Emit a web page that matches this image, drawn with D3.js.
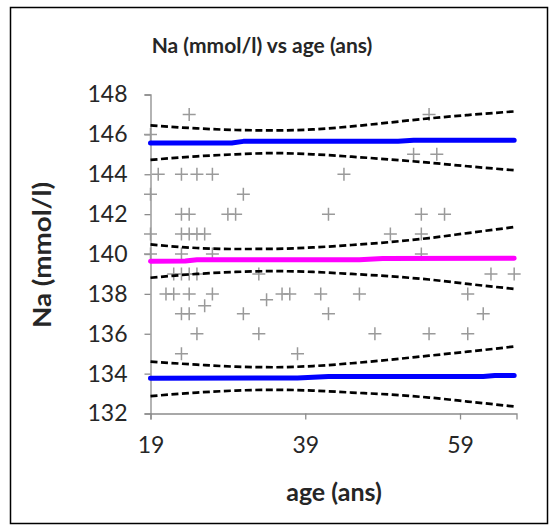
<!DOCTYPE html>
<html>
<head>
<meta charset="utf-8">
<script src="https://cdn.jsdelivr.net/npm/d3@7"></script>
<style>
  html, body { margin: 0; padding: 0; background: #fff; }
  svg { display: block; }
  text { font-family: Lato, "Open Sans", sans-serif; fill: #262626; }
</style>
</head>
<body>
<svg id="chart" width="554" height="532"></svg>
<script>
// Observations: age (years) and sodium (mmol/l)
const naAge = [24, 19, 20, 23, 25, 27, 19, 31, 23, 24, 29, 30, 19, 23, 24, 25, 26, 19, 23, 27,
               44, 42, 50, 55, 53, 56, 54, 57, 54, 54,
               22, 23, 24, 25, 33, 21, 22, 24, 27, 34, 26, 23, 24, 31, 25, 33, 23,
               36, 37, 41, 46, 42, 48, 38, 63, 66, 60, 62, 55, 60];
const naValue = [147, 146, 144, 144, 144, 144, 143, 143, 142, 142, 142, 142, 141, 141, 141, 141, 141, 140, 140, 140,
                 144, 142, 141, 147, 145, 145, 142, 142, 141, 140,
                 139, 139, 139, 139, 139, 138, 138, 138, 138, 137.7, 137.4, 137, 137, 137, 136, 136, 135,
                 138, 138, 138, 138, 137, 136, 135, 139, 139, 138, 137, 136, 136];

// Reference curves (mean and limits) against age
const meanAge   = [19, 23.5, 25, 46, 49, 66];
const meanNa    = [139.64, 139.65, 139.71, 139.71, 139.78, 139.79];
const upperAge  = [19, 29.5, 31, 51, 53, 66];
const upperNa   = [145.57, 145.57, 145.65, 145.66, 145.7, 145.7];
const lowerAge  = [19, 38, 42, 62, 63.5, 66];
const lowerNa   = [133.77, 133.78, 133.86, 133.86, 133.91, 133.91];

// Confidence bands (dashed) around each curve
const bandAge       = [19, 25, 30, 35, 40, 45, 50, 55, 60, 66];
const upperHi       = [146.45, 146.3, 146.22, 146.2, 146.25, 146.4, 146.6, 146.8, 146.97, 147.15];
const upperLo       = [144.72, 144.9, 145.0, 145.06, 145.0, 144.88, 144.74, 144.58, 144.4, 144.2];
const meanHi        = [140.48, 140.3, 140.25, 140.26, 140.33, 140.45, 140.6, 140.8, 141.05, 141.35];
const meanLo        = [138.81, 139.0, 139.1, 139.14, 139.1, 139.0, 138.88, 138.72, 138.5, 138.25];
const lowerHi       = [134.6, 134.45, 134.35, 134.32, 134.38, 134.52, 134.7, 134.9, 135.1, 135.36];
const lowerLo       = [132.87, 133.05, 133.15, 133.19, 133.15, 133.05, 132.95, 132.8, 132.6, 132.35];

const xTicks = [19, 39, 59];
const yTicks = [132, 134, 136, 138, 140, 142, 144, 146, 148];

const svg = d3.select("#chart");

// Chart frame
svg.append("rect")
  .attr("x", 10.5).attr("y", 7.5)
  .attr("width", 537).attr("height", 516)
  .attr("fill", "#fff").attr("stroke", "#000").attr("stroke-width", 1.5);

const x = d3.scaleLinear().domain([19, 66.3]).range([150.5, 516.5]);
const y = d3.scaleLinear().domain([132, 148]).range([413.5, 94.5]);

// Title
svg.append("text")
  .attr("x", 262).attr("y", 53)
  .attr("text-anchor", "middle")
  .style("font-size", "21px").style("font-weight", "bold")
  .text("Na (mmol/l) vs age (ans)");

// Axes
const axisColor = "#8c8c8c";
const yAxis = svg.append("g")
  .attr("transform", `translate(${x(19)},0)`)
  .call(d3.axisLeft(y).tickValues(yTicks).tickSize(6).tickPadding(17).tickFormat(d3.format("d")));
const xAxis = svg.append("g")
  .attr("transform", `translate(0,${y(132)})`)
  .call(d3.axisBottom(x).tickValues(xTicks).tickSize(6).tickPadding(17).tickFormat(d3.format("d")));
[xAxis, yAxis].forEach(g => {
  g.select(".domain").attr("stroke", axisColor).attr("stroke-width", 1.3);
  g.selectAll(".tick line").attr("stroke", axisColor).attr("stroke-width", 1.3);
  g.selectAll(".tick text")
    .style("font-family", "Lato, 'Open Sans', sans-serif")
    .style("font-size", "23px").attr("fill", "#262626");
});

// Axis titles
svg.append("text")
  .attr("transform", "translate(41,255) rotate(-90)")
  .attr("text-anchor", "middle").attr("dominant-baseline", "central")
  .attr("textLength", 146).attr("lengthAdjust", "spacingAndGlyphs")
  .style("font-size", "25px").style("font-weight", "bold")
  .text("Na (mmol/l)");
svg.append("text")
  .attr("x", 334).attr("y", 501)
  .attr("text-anchor", "middle")
  .style("font-size", "25px").style("font-weight", "bold")
  .text("age (ans)");

// Scatter points as plus markers
const pts = naAge.map((a, i) => [a, naValue[i]]);
const half = 6.5;
svg.append("g")
  .selectAll("path")
  .data(pts)
  .join("path")
  .attr("d", d => {
    const cx = x(d[0]), cy = y(d[1]);
    return `M${cx - half},${cy}H${cx + half}M${cx},${cy - half}V${cy + half}`;
  })
  .attr("stroke", "#9a9a9a").attr("stroke-width", 1.5).attr("fill", "none");

// Lines
const line = d3.line().x(d => x(d[0])).y(d => y(d[1]));
const smooth = d3.line().x(d => x(d[0])).y(d => y(d[1])).curve(d3.curveMonotoneX);
const zip = (a, b) => a.map((v, i) => [v, b[i]]);

const dashed = [upperHi, upperLo, meanHi, meanLo, lowerHi, lowerLo];
svg.append("g")
  .selectAll("path")
  .data(dashed)
  .join("path")
  .attr("d", d => smooth(zip(bandAge, d)))
  .attr("fill", "none").attr("stroke", "#000")
  .attr("stroke-width", 2.7).attr("stroke-dasharray", "7,3.5");

const solid = [
  { data: zip(upperAge, upperNa), color: "#0000ff" },
  { data: zip(meanAge, meanNa), color: "#ff00ff" },
  { data: zip(lowerAge, lowerNa), color: "#0000ff" }
];
svg.append("g")
  .selectAll("path")
  .data(solid)
  .join("path")
  .attr("d", d => line(d.data))
  .attr("fill", "none").attr("stroke", d => d.color)
  .attr("stroke-width", 5).attr("stroke-linecap", "round").attr("stroke-linejoin", "round");
</script>
</body>
</html>
